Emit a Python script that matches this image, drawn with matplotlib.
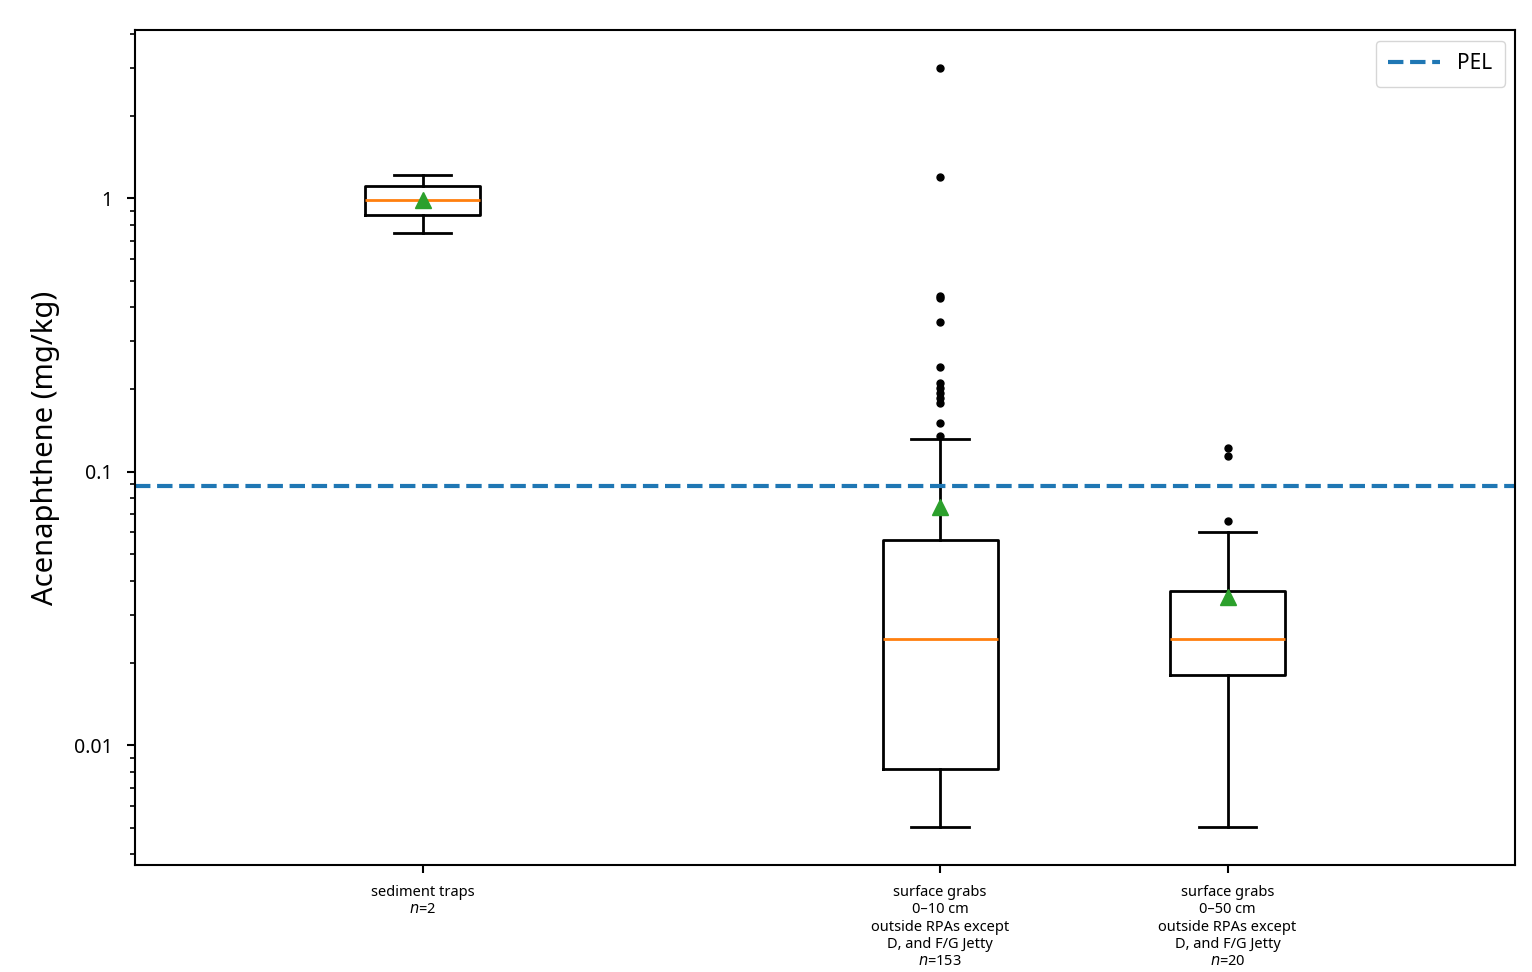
import matplotlib
matplotlib.use("Agg")
import matplotlib.pyplot as plt

plt.rcParams['font.family'] = ['Noto Sans', 'DejaVu Sans']

# box statistics (mg/kg)
labels = ["sediment traps\n$n$=2",
          "surface grabs\n0\u201310 cm\noutside RPAs except\nD, and F/G Jetty\n$n$=153",
          "surface grabs\n0\u201350 cm\noutside RPAs except\nD, and F/G Jetty\n$n$=20"]
whislo = [0.745, 0.00502, 0.00502]
q1 = [0.867, 0.00817, 0.0180]
med = [0.983, 0.0244, 0.0244]
q3 = [1.106, 0.0565, 0.0365]
whishi = [1.22, 0.1319, 0.0604]
means = [0.985, 0.0745, 0.0347]
fliers = [[],
          [2.99, 1.20, 0.439, 0.43, 0.352, 0.242, 0.211, 0.203, 0.194, 0.186, 0.179, 0.151, 0.135],
          [0.122, 0.1137, 0.0659]]
pel = 0.0889

positions = [1, 2.8, 3.8]

stats = []
for i in range(len(labels)):
    stats.append(dict(label=labels[i], whislo=whislo[i], q1=q1[i], med=med[i],
                      q3=q3[i], whishi=whishi[i], mean=means[i], fliers=fliers[i]))

fig = plt.figure(figsize=(15.32, 9.72), dpi=100)
ax = fig.add_axes([0.0881, 0.110, 0.9009, 0.859])

lw = 2
ax.bxp(stats, positions=positions, widths=0.4, showmeans=True,
       boxprops=dict(color='black', linewidth=lw),
       whiskerprops=dict(color='black', linewidth=lw),
       capprops=dict(color='black', linewidth=lw),
       medianprops=dict(color='#ff7f0e', linewidth=lw),
       meanprops=dict(marker='^', markerfacecolor='#2ca02c', markeredgecolor='#2ca02c', markersize=12),
       flierprops=dict(marker='o', markerfacecolor='black', markeredgecolor='black', markersize=5))

ax.axhline(pel, color='#1f77b4', linestyle='--', linewidth=3, label='PEL')

ax.set_yscale('log')
ax.set_xlim(0, 4.8)
ax.set_yticks([0.01, 0.1, 1])
ax.set_yticklabels(['0.01', '0.1', '1'])
ax.tick_params(axis='y', labelsize=14, width=1.5, length=6, pad=10)
ax.tick_params(axis='y', which='minor', width=1.2, length=3.5)
ax.tick_params(axis='x', labelsize=10.5, width=1.5, length=6, pad=8.5)
ax.set_xticks(positions)
ax.set_xticklabels(labels)
ax.set_ylabel('Acenaphthene (mg/kg)', fontsize=21, labelpad=10)

for s in ax.spines.values():
    s.set_linewidth(1.5)

ax.legend(loc='upper right', fontsize=15, handlelength=2.5, borderpad=0.6)

fig.savefig('out.png', dpi=100)
